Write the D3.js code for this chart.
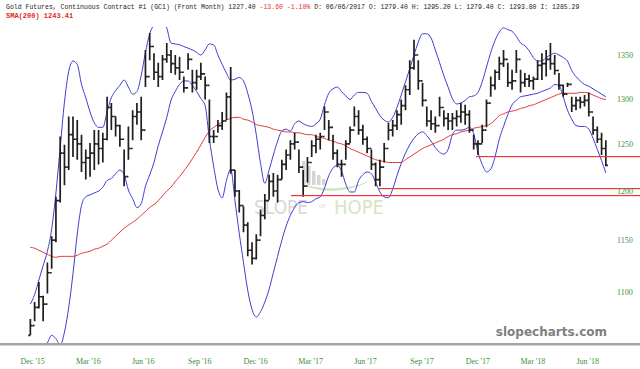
<!DOCTYPE html>
<html>
  <head>
    <script type="text/javascript" src="https://cdn.jsdelivr.net/npm/d3@7"></script>
    <style type="text/css">

html, body {
  margin: 0;
  background: #fff;
}

svg {
  display: block;
}

.head {
  font-family: "Liberation Mono", "DejaVu Sans Mono", monospace;
}

.axis text {
  font-family: "Liberation Serif", serif;
  font-size: 8px;
  fill: #3a913a;
}

    </style>
  </head>
  <body>
    <div id="chart"></div>
    <script type="text/javascript">

// weekly bars, first week ending 2015-12-18
var firstWeek = "2015-12-18";

var high = [1074,1090,1109,1096,1128,1154,1194,1258,1249,1280,1280,1276,1260,1244,1251,1265,1265,1262,1302,1295,
  1280,1271,1244,1269,1287,1295,1302,1356,1376,1352,1341,1350,1364,1356,1350,1348,1325,1352,1333,1333,
  1341,1325,1299,1265,1276,1285,1307,1336,1222,1201,1184,1168,1148,1156,1181,1197,1217,1219,1217,1233,
  1244,1254,1262,1244,1222,1236,1254,1260,1262,1291,1276,1260,1244,1233,1254,1269,1291,1287,1271,1258,
  1244,1230,1233,1251,1273,1276,1287,1299,1315,1344,1368,1344,1318,1291,1287,1280,1302,1287,1284,1284,
  1287,1295,1293,1287,1260,1254,1271,1299,1325,1333,1348,1356,1341,1333,1356,1333,1329,1327,1325,1344,
  1352,1356,1364,1350,1329,1316,1318,1302,1302,1302,1304,1307,1280,1269,1262,1254];

var low = [1059,1072,1084,1072,1098,1122,1148,1188,1206,1222,1236,1233,1220,1212,1215,1222,1228,1230,1254,1265,
  1258,1247,1205,1233,1254,1271,1254,1313,1344,1321,1313,1321,1341,1329,1327,1321,1307,1333,1307,1310,
  1321,1299,1251,1251,1262,1265,1276,1218,1194,1178,1158,1134,1126,1131,1154,1171,1191,1194,1188,1212,
  1222,1233,1244,1219,1194,1209,1236,1240,1244,1265,1254,1233,1225,1215,1233,1251,1269,1260,1249,1240,
  1222,1205,1205,1230,1254,1258,1265,1271,1287,1304,1333,1310,1291,1269,1265,1262,1280,1269,1265,1265,
  1269,1273,1271,1262,1244,1238,1251,1268,1302,1310,1321,1336,1313,1310,1329,1307,1313,1313,1310,1321,
  1321,1325,1333,1327,1310,1302,1313,1285,1287,1289,1291,1280,1260,1251,1238,1226];

var close = [1068,1085,1095,1088,1118,1150,1190,1240,1225,1260,1255,1250,1230,1235,1240,1250,1245,1255,1290,1280,
  1270,1255,1215,1245,1280,1285,1265,1325,1360,1330,1325,1345,1350,1340,1335,1330,1312,1345,1318,1325,
  1328,1315,1258,1258,1270,1275,1302,1222,1200,1185,1165,1140,1132,1150,1175,1190,1210,1200,1212,1228,
  1238,1250,1252,1225,1205,1230,1248,1255,1258,1285,1268,1240,1228,1228,1250,1265,1280,1265,1255,1245,
  1228,1212,1225,1245,1265,1270,1282,1292,1310,1335,1350,1320,1298,1275,1272,1270,1290,1278,1275,1278,
  1280,1285,1282,1265,1250,1250,1265,1295,1315,1330,1340,1345,1318,1320,1345,1318,1322,1320,1322,1338,
  1340,1345,1340,1332,1315,1305,1316,1292,1298,1296,1298,1285,1265,1255,1245,1227];

var upperBand = [1088,1097,1111,1125,1139,1161,1198,1246,1296,1331,1343,1339,1316,1301,1285,1273,1268,1268,1285,1301,
  1309,1315,1321,1313,1305,1308,1326,1353,1375,1386,1392,1391,1382,1364,1363,1362,1360,1358,1356,1353,
  1350,1356,1363,1362,1350,1339,1329,1321,1322,1324,1320,1306,1287,1260,1229,1208,1222,1238,1253,1264,
  1266,1264,1272,1275,1272,1270,1269,1272,1277,1293,1306,1311,1313,1308,1303,1299,1304,1307,1307,1306,
  1297,1289,1281,1276,1274,1279,1290,1304,1319,1334,1350,1365,1375,1375,1370,1356,1341,1326,1313,1300,
  1294,1295,1298,1302,1303,1307,1319,1336,1353,1367,1377,1382,1380,1378,1372,1364,1361,1355,1347,1343,
  1343,1347,1350,1352,1350,1347,1343,1332,1325,1320,1316,1314,1311,1308,1305,1302];

var lowerBand = [1035,1037,1039,1044,1052,1059,1056,1050,1062,1085,1117,1156,1185,1194,1196,1198,1200,1204,1211,1213,
  1218,1222,1217,1201,1192,1183,1187,1205,1217,1230,1248,1263,1279,1298,1308,1316,1320,1320,1315,1308,
  1300,1292,1255,1226,1202,1193,1211,1223,1190,1157,1128,1101,1083,1076,1081,1090,1102,1118,1134,1150,
  1164,1175,1183,1188,1189,1188,1189,1192,1194,1203,1216,1224,1227,1221,1207,1199,1199,1211,1217,1220,
  1218,1209,1199,1194,1193,1202,1216,1229,1240,1249,1256,1261,1263,1259,1253,1246,1241,1239,1244,1260,
  1265,1265,1266,1268,1261,1241,1228,1220,1223,1236,1255,1269,1282,1293,1298,1302,1303,1304,1305,1306,
  1308,1310,1312,1316,1315,1302,1287,1277,1270,1269,1269,1266,1256,1244,1232,1219];

var sma200 = [1143,1142,1140,1138,1136,1134,1133,1134,1134,1134,1134,1135,1137,1138,1139,1141,1142,1144,1146,1150,
  1154,1158,1162,1165,1168,1171,1175,1179,1183,1186,1190,1195,1200,1204,1210,1215,1221,1227,1234,1241,
  1249,1257,1264,1268,1271,1274,1276,1278,1279,1279,1277,1276,1274,1271,1270,1269,1268,1266,1265,1264,
  1263,1263,1262,1262,1261,1260,1260,1258,1257,1256,1254,1253,1251,1250,1248,1245,1243,1241,1239,1237,
  1235,1233,1232,1231,1230,1230,1230,1230,1233,1236,1239,1242,1245,1247,1249,1251,1253,1255,1258,1260,
  1261,1263,1264,1265,1267,1268,1269,1270,1272,1276,1281,1283,1285,1286,1287,1289,1290,1292,1293,1295,
  1297,1299,1301,1303,1305,1306,1306,1306,1306,1307,1307,1306,1304,1302,1300,1299];

// support lines: level and the date where each one starts
var levels = [1236, 1203, 1195];
var levelStarts = ["2017-12-19", "2017-07-12", "2017-02-18"];

var yTicks = [1100, 1150, 1200, 1250, 1300, 1350];
var xTicks = ["2015-12-01", "2016-03-01", "2016-06-01", "2016-09-01", "2016-12-01", "2017-03-01",
  "2017-06-01", "2017-09-01", "2017-12-01", "2018-03-01", "2018-06-01"];

var headLine = ["Gold Futures, Continuous Contract #1 (GC1) (Front Month) 1227.40 ", "-13.60 -1.10%",
  " D: 06/06/2017 O: 1279.40 H: 1295.20 L: 1279.40 C: 1293.80 I: 1285.29"];
var smaLine = "SMA(200) 1243.41";

var W = 640, H = 369;
var parse = d3.timeParse("%Y-%m-%d");
var start = parse(firstWeek);
var dates = close.map(function(d, i) { return d3.timeDay.offset(start, 7 * i); });

var x = d3.scaleTime()
    .domain([parse("2015-12-01"), parse("2018-06-01")])
    .range([20, 576]);

var y = d3.scaleLog()
    .domain([1100, 1350])
    .range([291.5, 55]);

var svg = d3.select("#chart").append("svg")
    .attr("width", W)
    .attr("height", H);

svg.append("defs").append("clipPath")
    .attr("id", "plot")
  .append("rect")
    .attr("x", 0)
    .attr("y", 27)
    .attr("width", 612)
    .attr("height", 316);

// faint watermark in the middle
var wm = svg.append("g").attr("class", "wm");
[[302, 161], [307, 166], [312, 171], [317, 175], [322, 179]].forEach(function(b) {
  wm.append("rect")
      .attr("x", b[0])
      .attr("y", b[1])
      .attr("width", 3.5)
      .attr("height", 185 - b[1])
      .attr("fill", "#d4d4d4");
});
wm.append("path")
    .attr("d", "M300,184 Q335,200 372,180 Q338,194 300,184 Z")
    .attr("fill", "#d2e6c2");
wm.append("text")
    .attr("x", 254)
    .attr("y", 214)
    .attr("textLength", 54)
    .attr("lengthAdjust", "spacingAndGlyphs")
    .style("font", "20px 'DejaVu Sans', sans-serif")
    .attr("fill", "#d6d6d6")
    .text("SLOPE");
wm.append("text")
    .attr("x", 319)
    .attr("y", 208)
    .style("font", "5px 'DejaVu Sans', sans-serif")
    .attr("fill", "#d6d6d6")
    .text("OF");
wm.append("text")
    .attr("x", 334)
    .attr("y", 214)
    .attr("textLength", 50)
    .attr("lengthAdjust", "spacingAndGlyphs")
    .style("font", "20px 'DejaVu Sans', sans-serif")
    .attr("fill", "#d3e6c6")
    .text("HOPE");

var plot = svg.append("g").attr("clip-path", "url(#plot)");

function series(values) {
  return d3.line()
      .x(function(d, i) { return x(dates[i]); })
      .y(function(d) { return y(d); })
      .curve(d3.curveMonotoneX)(values);
}

plot.append("path")
    .attr("d", series(upperBand))
    .attr("fill", "none")
    .attr("stroke", "#3d3dd4")
    .attr("stroke-width", 1);

plot.append("path")
    .attr("d", series(lowerBand))
    .attr("fill", "none")
    .attr("stroke", "#3d3dd4")
    .attr("stroke-width", 1);

plot.append("path")
    .attr("d", series(sma200))
    .attr("fill", "none")
    .attr("stroke", "#e23a3a")
    .attr("stroke-width", 1);

// horizontal levels as 1px rects, running off the right edge
svg.selectAll("rect.level")
    .data(levels)
  .enter().append("rect")
    .attr("class", "level")
    .attr("x", function(d, i) { return x(parse(levelStarts[i])); })
    .attr("width", function(d, i) { return W - x(parse(levelStarts[i])); })
    .attr("y", function(d) { return Math.floor(y(d)); })
    .attr("height", 1.2)
    .attr("fill", "#ec3a3a");

// OHLC bars, open taken as the previous close
var bars = plot.append("g");
close.forEach(function(c, i) {
  var xi = x(dates[i]);
  var o = i ? close[i - 1] : low[0];
  bars.append("path")
      .attr("d", "M" + xi + "," + y(high[i]) + "V" + y(low[i]) +
        "M" + (xi - 2.1) + "," + y(o) + "H" + xi +
        "M" + xi + "," + y(c) + "H" + (xi + 2.1))
      .attr("fill", "none")
      .attr("stroke", "#1e1e1e")
      .attr("stroke-width", 1.7);
});

// bottom rule
svg.append("rect")
    .attr("x", 0)
    .attr("y", 343)
    .attr("width", W)
    .attr("height", 2.5)
    .attr("fill", "#a4a4a4");

svg.append("g")
    .attr("class", "axis")
    .attr("transform", "translate(612,0)")
    .call(d3.axisRight(y).tickValues(yTicks).tickSize(0).tickPadding(5).tickFormat(d3.format("d")))
    .call(function(g) { g.select(".domain").remove(); });

svg.append("g")
    .attr("class", "axis")
    .attr("transform", "translate(0,345)")
    .call(d3.axisBottom(x).tickValues(xTicks.map(parse)).tickSize(0).tickPadding(13)
      .tickFormat(d3.timeFormat("%b '%y")))
    .call(function(g) {
      g.select(".domain").remove();
      g.selectAll("text").attr("text-anchor", "start");
    });

svg.append("text")
    .attr("x", 607)
    .attr("y", 336)
    .attr("text-anchor", "end")
    .style("font", "bold 12px 'DejaVu Sans', sans-serif")
    .attr("fill", "#7f7f7f")
    .text("slopecharts.com");

var head = svg.append("text")
    .attr("class", "head")
    .attr("x", 6)
    .attr("y", 8.5)
    .style("font-size", "6.5px")
    .attr("fill", "#222");
head.append("tspan").text(headLine[0]);
head.append("tspan").attr("fill", "#e03030").text(headLine[1]);
head.append("tspan").text(headLine[2]);

svg.append("text")
    .attr("class", "head")
    .attr("x", 6)
    .attr("y", 17.5)
    .style("font-size", "7px")
    .style("font-weight", "bold")
    .attr("fill", "#e02828")
    .text(smaLine);

    </script>
  </body>
</html>
